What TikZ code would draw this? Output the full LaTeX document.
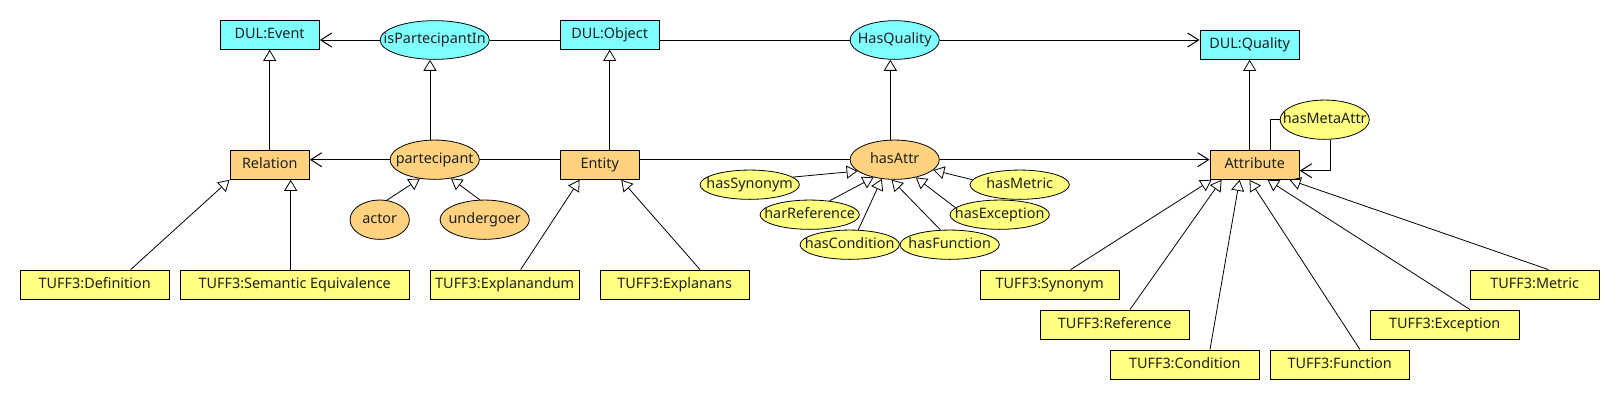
\documentclass[tikz,border=0pt]{standalone}
\usepackage{fontspec}
\setmainfont{Noto Sans}
\usetikzlibrary{arrows.meta,calc,shapes.geometric}
\definecolor{dulcyan}{HTML}{80FFFF}
\definecolor{orng}{HTML}{FFD280}
\definecolor{yel}{HTML}{FFFF80}
\definecolor{txt}{HTML}{202020}
\begin{document}
\begin{tikzpicture}[x=1pt,y=-1pt,
  every node/.style={font=\fontsize{14.4}{16}\selectfont, text=txt, inner sep=0pt, text height=10pt, text depth=2.8pt},
  box/.style={draw, line width=1pt, rectangle, minimum height=29.3pt},
  oval/.style={draw, line width=0.8pt, ellipse},
  big/.style={oval, minimum width=89.3pt, minimum height=39.3pt},
  small/.style={oval, fill=yel, minimum width=99.3pt, minimum height=29.3pt},
  assoc/.style={draw, line width=1pt},
  assocto/.style={assoc, -{Straight Barb[length=11pt, width=14pt, line width=1pt]}},
  gen/.style={draw, line width=0.8pt, -{Triangle[open, length=11pt, width=13pt, line width=0.8pt]}}
]
\useasboundingbox (0,0) rectangle (1620,400);
% boxes
\node[box, fill=dulcyan, minimum width=99.3pt] (evt) at (269.7,34.7) {DUL:Event};
\node[box, fill=dulcyan, minimum width=99.3pt] (obj) at (609.7,34.7) {DUL:Object};
\node[box, fill=dulcyan, minimum width=99.3pt] (qual) at (1249.7,44.7) {DUL:Quality};
\node[box, fill=orng, minimum width=79.3pt] (rel) at (269.7,164.7) {Relation};
\node[box, fill=orng, minimum width=79.3pt] (ent) at (599.7,164.7) {Entity};
\node[box, fill=orng, minimum width=89.3pt] (attr) at (1254.7,164.7) {Attribute};
\node[box, fill=yel, minimum width=149.3pt] (def) at (94.7,284.7) {TUFF3:Definition};
\node[box, fill=yel, minimum width=229.3pt] (semeq) at (294.7,284.7) {TUFF3:Semantic Equivalence};
\node[box, fill=yel, minimum width=149.3pt] (expm) at (504.7,284.7) {TUFF3:Explanandum};
\node[box, fill=yel, minimum width=149.3pt] (exps) at (674.7,284.7) {TUFF3:Explanans};
\node[box, fill=yel, minimum width=139.3pt] (syn) at (1049.7,284.7) {TUFF3:Synonym};
\node[box, fill=yel, minimum width=149.3pt] (ref) at (1114.7,324.7) {TUFF3:Reference};
\node[box, fill=yel, minimum width=149.3pt] (cond) at (1184.7,364.7) {TUFF3:Condition};
\node[box, fill=yel, minimum width=139.3pt] (func) at (1339.7,364.7) {TUFF3:Function};
\node[box, fill=yel, minimum width=149.3pt] (exc) at (1444.7,324.7) {TUFF3:Exception};
\node[box, fill=yel, minimum width=129.3pt] (met) at (1534.7,284.7) {TUFF3:Metric};
% ellipses
\node[oval, fill=dulcyan, minimum width=109.3pt, minimum height=38.7pt] (ispart) at (434.7,40) {\makebox[0pt]{isPartecipantIn}};
\node[oval, fill=dulcyan, minimum width=89.3pt, minimum height=38.7pt] (hasq) at (894.7,40) {\makebox[0pt]{HasQuality}};
\node[big, fill=orng] (part) at (434.7,159.7) {\makebox[0pt]{partecipant}};
\node[big, fill=orng] (hasattr) at (894.7,159.7) {\makebox[0pt]{hasAttr}};
\node[oval, fill=orng, minimum width=59.3pt, minimum height=39.3pt] (actor) at (379.7,219.7) {\makebox[0pt]{actor}};
\node[big, fill=orng] (under) at (484.7,219.7) {\makebox[0pt]{undergoer}};
\node[big, fill=yel] (meta) at (1324.7,119.7) {\makebox[0pt]{hasMetaAttr}};
\node[small] (hsyn) at (749.7,184.7) {\makebox[0pt]{hasSynonym}};
\node[small] (hmet) at (1019.7,184.7) {\makebox[0pt]{hasMetric}};
\node[small] (href) at (809.7,214.7) {\makebox[0pt]{harReference}};
\node[small] (hexc) at (999.7,214.7) {\makebox[0pt]{hasException}};
\node[small] (hcond) at (849.7,244.7) {\makebox[0pt]{hasCondition}};
\node[small] (hfun) at (949.7,244.7) {\makebox[0pt]{hasFunction}};
% association lines
\draw[assocto] (ispart.west) -- (evt.east |- ispart.west);
\draw[assoc] (obj.west |- ispart.east) -- (ispart.east);
\draw[assoc] (obj.east |- hasq.west) -- (hasq.west);
\draw[assocto] (hasq.east) -- (qual.west |- hasq.east);
\draw[assocto] (part.west) -- (rel.east |- part.west);
\draw[assoc] (ent.west |- part.east) -- (part.east);
\draw[assoc] (ent.east |- hasattr.west) -- (hasattr.west);
\draw[assocto] (hasattr.east) -- (attr.west |- hasattr.east);
% generalizations
\draw[gen] (rel.north) -- (evt.south);
\draw[gen] ($(part.north)+(-4.7,0)$) -- ($(ispart.south)+(-4.7,0)$);
\draw[gen] (obj.south |- ent.north) -- (obj.south);
\draw[gen] ($(hasattr.north)+(-4.4,0)$) -- ($(hasq.south)+(-4.4,0)$);
\draw[gen] (qual.south |- attr.north) -- (qual.south);
\draw[gen] ($(def.north)+(36,0)$) -- (rel.south west);
\draw[gen] ($(semeq.north)+(-4,0)$) -- ($(rel.south)+(21,0)$);
\draw[gen] (actor.70) -- (part.232);
\draw[gen] (under.104) -- (part.311);
\draw[gen] ($(expm.north)+(16,0)$) -- ($(ent.south west)+(20,0)$);
\draw[gen] ($(exps.north)+(25.3,0)$) -- ($(ent.south west)+(61.7,0)$);
\draw[gen] (hsyn.10) -- (hasattr.197);
\draw[gen] (href.35) -- (hasattr.220);
\draw[gen] (hcond.60) -- (hasattr.236);
\draw[gen] (hfun.122) -- (hasattr.261);
\draw[gen] (hexc.171) -- (hasattr.320);
\draw[gen] (hmet.174) -- (hasattr.345);
\draw[gen] ($(syn.north)+(21,0)$) -- ($(attr.south west)+(2,0)$);
\draw[gen] ($(ref.north)+(15.3,0)$) -- ($(attr.south west)+(12,0)$);
\draw[gen] ($(cond.north)+(25.3,0)$) -- ($(attr.south west)+(30,0)$);
\draw[gen] ($(func.north)+(20.3,0)$) -- ($(attr.south west)+(40,0)$);
\draw[gen] ($(exc.north)+(25.3,0)$) -- ($(attr.south west)+(58,0)$);
\draw[gen] ($(met.north)+(13.6,0)$) -- ($(attr.south west)+(80,0)$);
% hasMetaAttr loop
\draw[assoc] ($(attr.north)+(16,0)$) |- (meta.west);
\draw[assocto] ($(meta.south)+(5.3,0)$) |- ($(attr.east)+(0,6)$);
\end{tikzpicture}
\end{document}
